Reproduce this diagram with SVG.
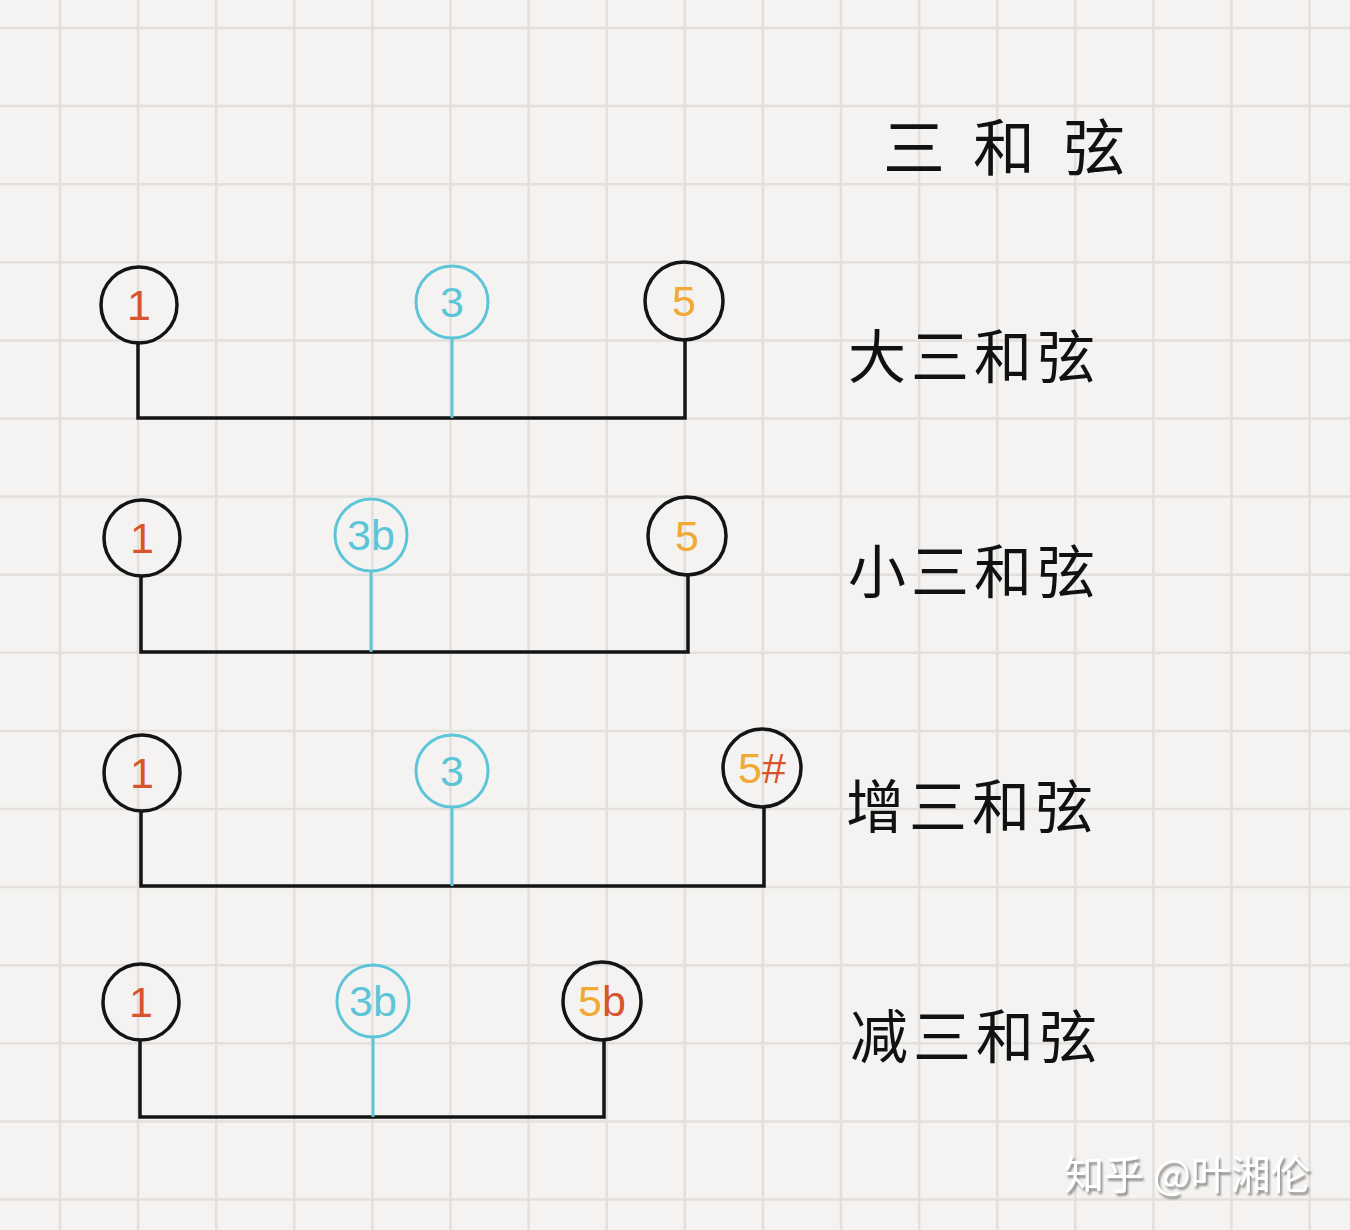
<svg xmlns="http://www.w3.org/2000/svg" width="1350" height="1230" viewBox="0 0 1350 1230">
<defs>
<filter id="shadow" x="-10%" y="-30%" width="120%" height="160%">
<feDropShadow dx="2" dy="3" stdDeviation="1" flood-color="#8a8886" flood-opacity="0.95"/>
</filter>
</defs>
<style>
.grid{stroke:#e2dfdc;stroke-width:2.5;fill:none}
.ring{fill:none;stroke:#141414;stroke-width:3.5}
.ring-c{fill:none;stroke:#5cc6d8;stroke-width:3}
.wire{stroke:#141414;stroke-width:3.5;fill:none;stroke-linecap:square}
.wire-c{stroke:#5cc6d8;stroke-width:3;fill:none}
.num{font-family:"Liberation Sans","DejaVu Sans",sans-serif;font-size:43px;text-anchor:middle}
.red{fill:#d8542c}
.cyan{fill:#5cc6d8}
.orange{fill:#f0a932}
.label{font-family:"Noto Sans CJK SC","Noto Sans CJK JP",sans-serif;font-size:58px;letter-spacing:5px;fill:#111}
.title{font-family:"Noto Sans CJK SC","Noto Sans CJK JP",sans-serif;font-size:62px;letter-spacing:28px;fill:#111}
.wm{font-family:"Noto Sans CJK SC","Noto Sans CJK JP",sans-serif;font-size:40px;fill:#ffffff}
</style>
<rect width="1350" height="1230" fill="#f5f3f1"/>
<path class="grid" d="M60 0V1230M138.1 0V1230M216.2 0V1230M294.3 0V1230M372.4 0V1230M450.5 0V1230M528.6 0V1230M606.7 0V1230M684.8 0V1230M762.9 0V1230M841 0V1230M919.1 0V1230M997.2 0V1230M1075.3 0V1230M1153.4 0V1230M1231.5 0V1230M1309.6 0V1230M0 28H1350M0 106.1H1350M0 184.2H1350M0 262.3H1350M0 340.4H1350M0 418.5H1350M0 496.6H1350M0 574.7H1350M0 652.8H1350M0 730.9H1350M0 809H1350M0 887.1H1350M0 965.2H1350M0 1043.3H1350M0 1121.4H1350M0 1199.5H1350"/>

<g id="connectors">
<path class="wire" d="M138 343V418H685V340"/>
<path class="wire-c" d="M452 338V418"/>
<path class="wire" d="M141 577V652H688V575"/>
<path class="wire-c" d="M371 572V652"/>
<path class="wire" d="M141 812V886H764V808"/>
<path class="wire-c" d="M452 808V886"/>
<path class="wire" d="M140 1041V1117H604V1040"/>
<path class="wire-c" d="M373 1038V1117"/>
</g>

<text id="title" class="title" x="883" y="171">三和弦</text>

<g id="major">
<g id="major-1"><circle class="ring" cx="139" cy="305" r="38"/><text class="num red" x="139" y="320">1</text></g>
<g id="major-3"><circle class="ring-c" cx="452" cy="302" r="36"/><text class="num cyan" x="452" y="317">3</text></g>
<g id="major-5"><circle class="ring" cx="684" cy="301" r="39"/><text class="num orange" x="684" y="316">5</text></g>
<text class="label" x="848" y="378">大三和弦</text>
</g>

<g id="minor">
<g id="minor-1"><circle class="ring" cx="142" cy="538" r="38"/><text class="num red" x="142" y="553">1</text></g>
<g id="minor-3b"><circle class="ring-c" cx="371" cy="535" r="36"/><text class="num cyan" x="371" y="550">3b</text></g>
<g id="minor-5"><circle class="ring" cx="687" cy="536" r="39"/><text class="num orange" x="687" y="551">5</text></g>
<text class="label" x="848" y="593">小三和弦</text>
</g>

<g id="augmented">
<g id="aug-1"><circle class="ring" cx="142" cy="773" r="38"/><text class="num red" x="142" y="788">1</text></g>
<g id="aug-3"><circle class="ring-c" cx="452" cy="771" r="36"/><text class="num cyan" x="452" y="786">3</text></g>
<g id="aug-5s"><circle class="ring" cx="762" cy="768" r="39"/><text class="num" x="762" y="783"><tspan class="orange">5</tspan><tspan class="red">#</tspan></text></g>
<text class="label" x="846" y="828">增三和弦</text>
</g>

<g id="diminished">
<g id="dim-1"><circle class="ring" cx="141" cy="1002" r="38"/><text class="num red" x="141" y="1017">1</text></g>
<g id="dim-3b"><circle class="ring-c" cx="373" cy="1001" r="36"/><text class="num cyan" x="373" y="1016">3b</text></g>
<g id="dim-5b"><circle class="ring" cx="602" cy="1001" r="39"/><text class="num" x="602" y="1016"><tspan class="orange">5</tspan><tspan class="red">b</tspan></text></g>
<text class="label" x="850" y="1058">减三和弦</text>
</g>

<text id="watermark" class="wm" x="1064" y="1189" filter="url(#shadow)">知乎 @叶湘伦</text>
</svg>
